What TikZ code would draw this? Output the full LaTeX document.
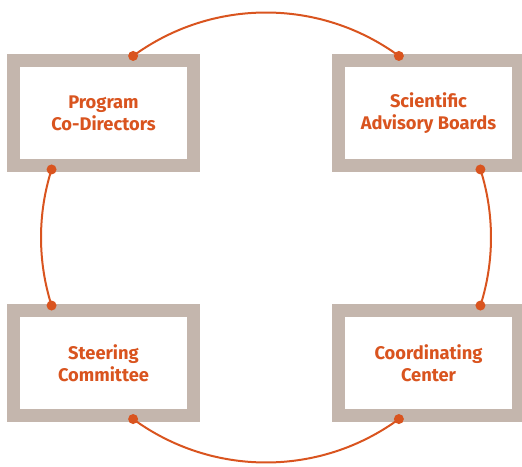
\documentclass[tikz,border=0pt]{standalone}
\usepackage{fontspec}
\setmainfont{Fira Sans}
\usetikzlibrary{calc}
\definecolor{accent}{HTML}{D9541F}
\definecolor{frame}{HTML}{C4B6AD}
\begin{document}
\begin{tikzpicture}[x=1pt,y=1pt,
  box/.style={draw=frame, line width=13pt, fill=white, rectangle,
    minimum width=180pt, minimum height=105pt, inner sep=0pt,
    align=center, text=accent, font=\fontsize{18.3}{22}\selectfont\bfseries},
  link/.style={draw=accent, line width=2pt},
  dot/.style={fill=accent, circle, inner sep=0pt, minimum size=10pt}]
\useasboundingbox (0,0) rectangle (522,466);
\node[box] (pcd) at (103.5,353) {Program\\Co-Directors};
\node[box] (sab) at (428.5,353) {Scientific\\Advisory Boards};
\node[box] (sc)  at (103.5,103) {Steering\\Committee};
\node[box] (cc)  at (428.5,103) {Coordinating\\Center};
\coordinate (c) at (266,228.5);
\foreach \n/\a in {a1/126.2, a2/53.8, b1/17.6, b2/-17.6, c1/-53.8, c2/-126.2, d1/197.6, d2/162.4}
  \coordinate (\n) at ($(c)+(\a:225pt)$);
\draw[link] (a1) arc[start angle=126.2, end angle=53.8, radius=225pt];
\draw[link] (b1) arc[start angle=17.6, end angle=-17.6, radius=225pt];
\draw[link] (c1) arc[start angle=-53.8, end angle=-126.2, radius=225pt];
\draw[link] (d1) arc[start angle=197.6, end angle=162.4, radius=225pt];
\foreach \n in {a1,a2,b1,b2,c1,c2,d1,d2}
  \node[dot] (dot-\n) at (\n) {};
\end{tikzpicture}
\end{document}
